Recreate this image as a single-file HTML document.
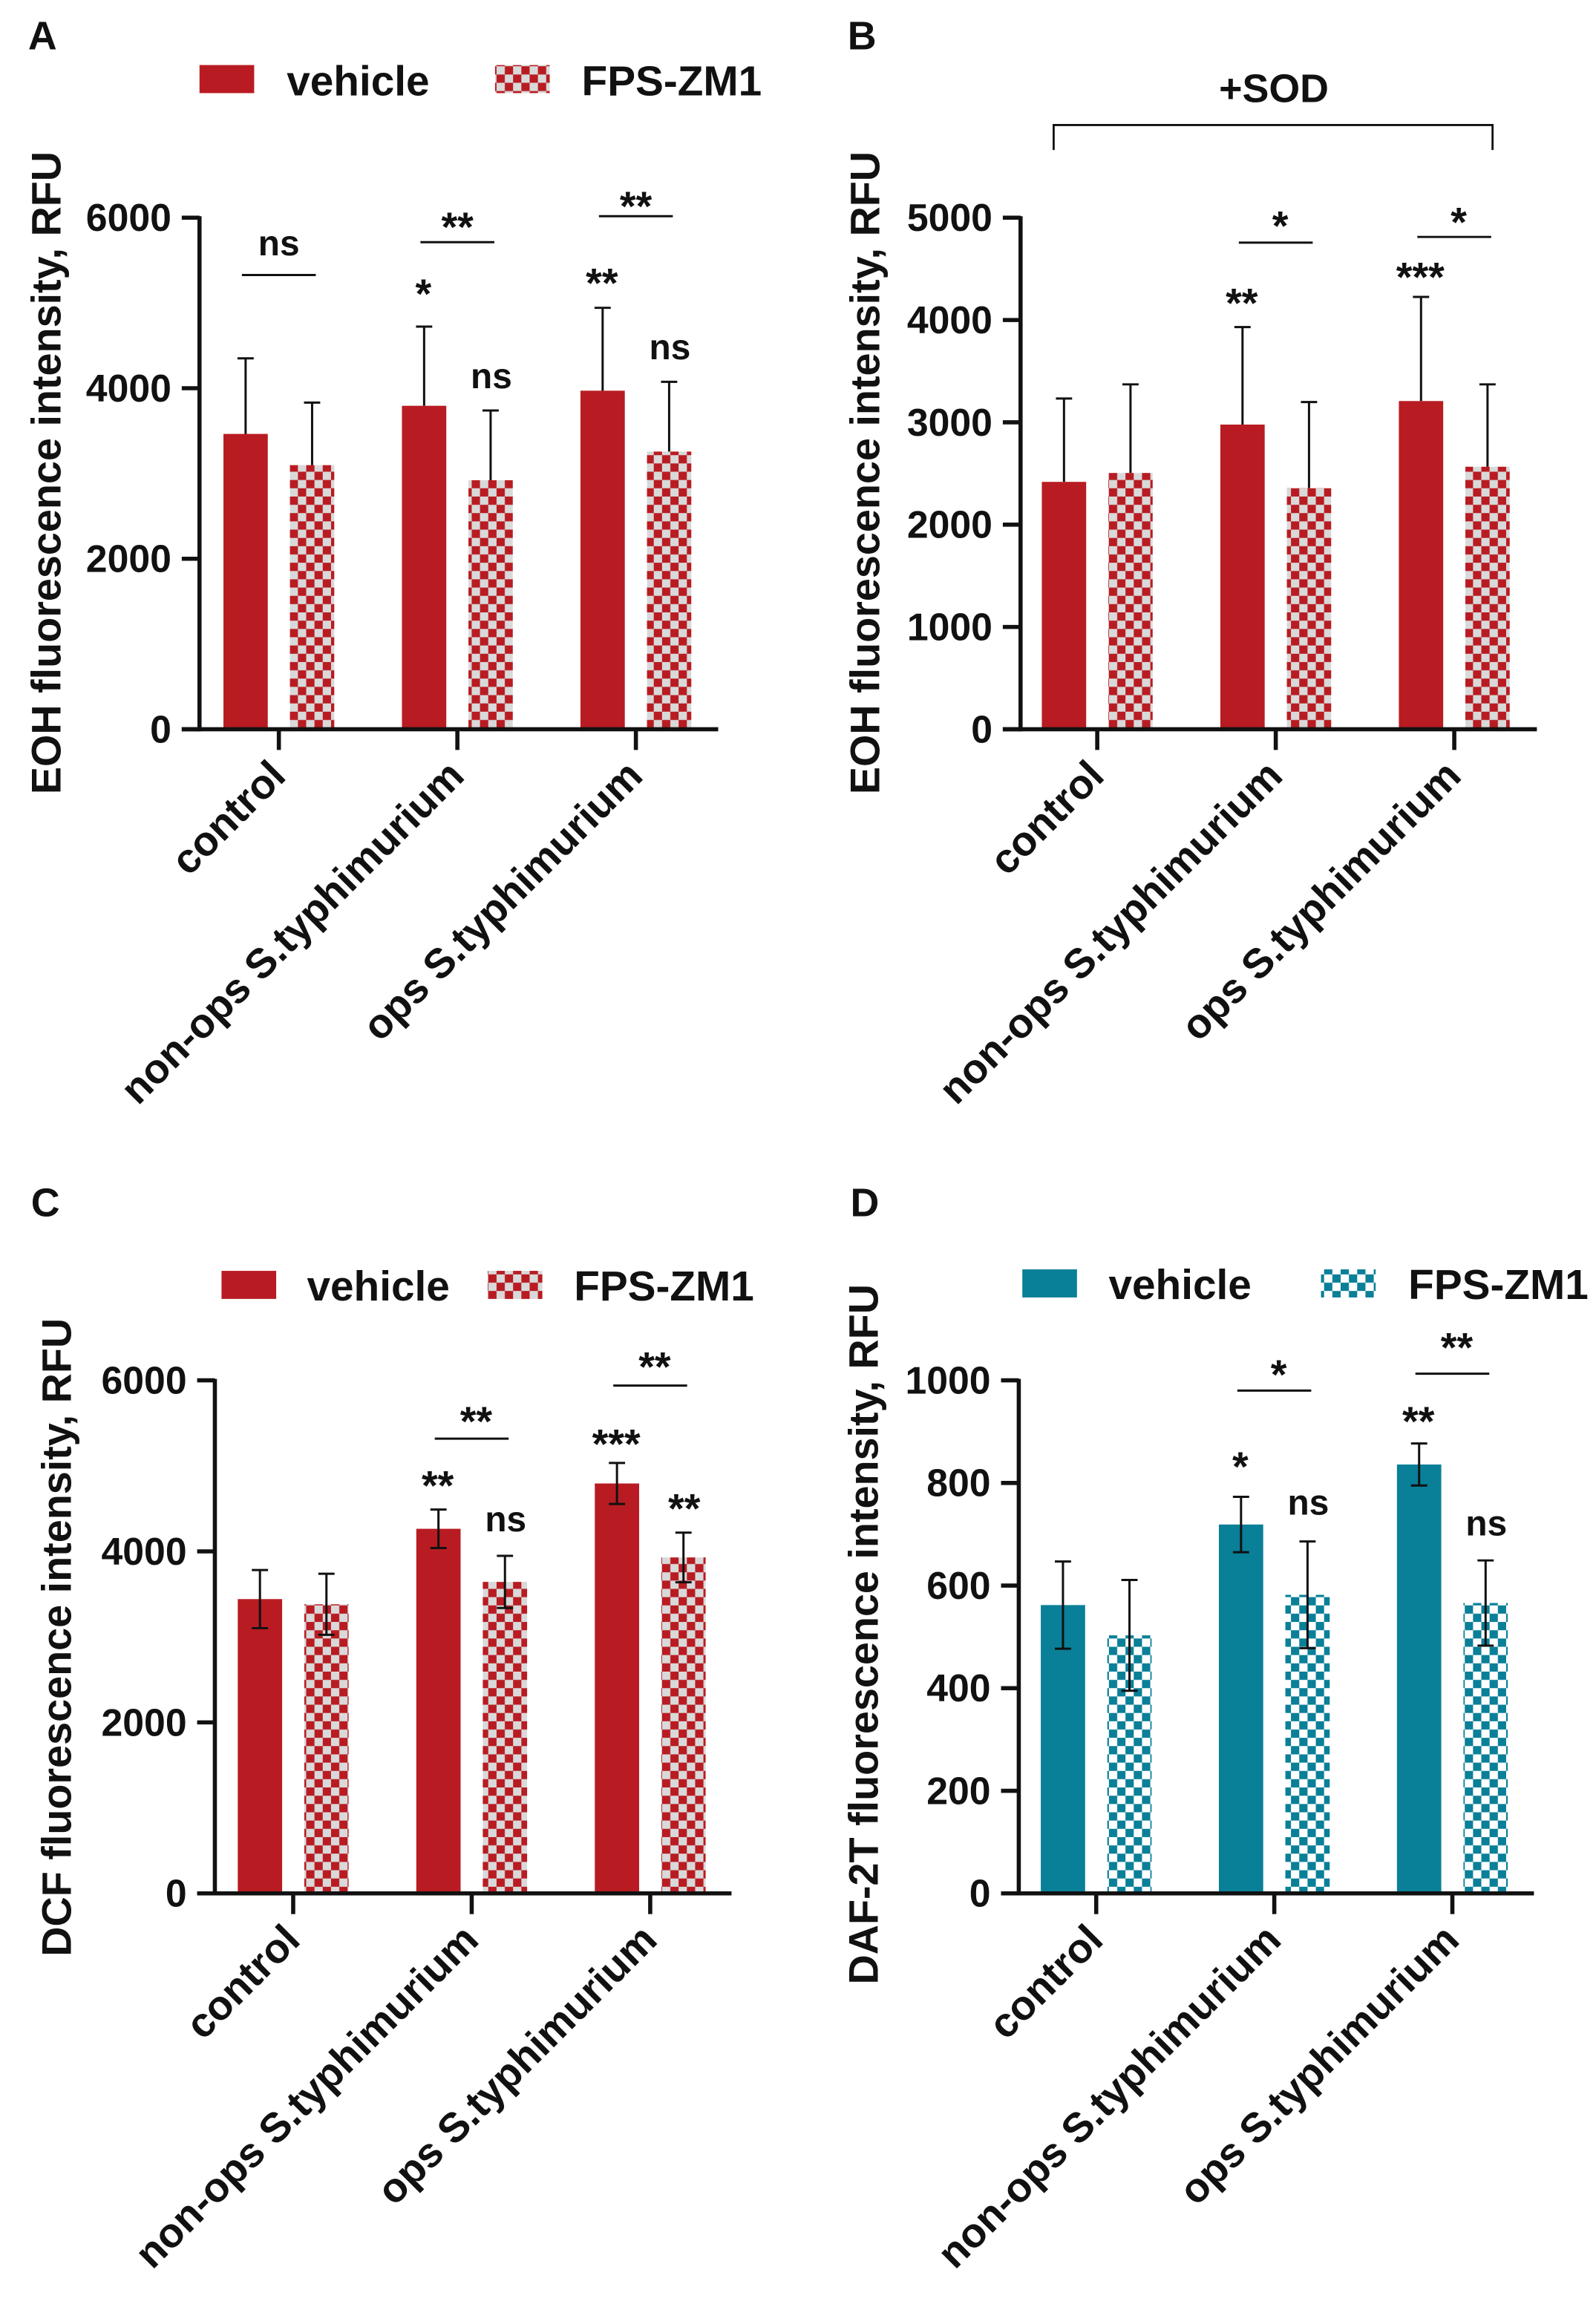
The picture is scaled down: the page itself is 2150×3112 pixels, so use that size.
<!DOCTYPE html>
<html><head><meta charset="utf-8"><style>
html,body{margin:0;padding:0;background:#fff;}
svg{display:block;}
text{font-family:"Liberation Sans",Arial,sans-serif;font-weight:bold;fill:#111;}
</style></head><body>
<svg id="fig" xmlns="http://www.w3.org/2000/svg" width="2150" height="3112" viewBox="0 0 1080 1563.2">
<defs>
<pattern id="chkRed" width="11.2" height="11.2" patternUnits="userSpaceOnUse">
<rect width="11.2" height="11.2" fill="#b81c22"/><rect width="5.6" height="5.6" fill="#d9d9d9"/><rect x="5.6" y="5.6" width="5.6" height="5.6" fill="#d9d9d9"/>
</pattern>
<pattern id="chkTeal" width="11.2" height="11.2" patternUnits="userSpaceOnUse">
<rect width="11.2" height="11.2" fill="#0a7f98"/><rect width="5.6" height="5.6" fill="#fff"/><rect x="5.6" y="5.6" width="5.6" height="5.6" fill="#fff"/>
</pattern>
</defs>
</svg>
<script>
const categories = ["control","non-ops S.typhimurium","ops S.typhimurium"];
const seriesNames = ["vehicle","FPS-ZM1"];
// Panel A
const aVehicle = [3464, 3794, 3971];
const aFps = [3098, 2921, 3257];
const aVehicleErr = [886, 929, 972];
const aFpsErr = [733, 818, 818];
const aTicks = [0, 2000, 4000, 6000];
// Panel B
const bVehicle = [2418, 2978, 3208];
const bFps = [2505, 2357, 2566];
const bVehicleErr = [815, 953, 1018];
const bFpsErr = [866, 841, 805];
const bTicks = [0, 1000, 2000, 3000, 4000, 5000];
// Panel C
const cVehicle = [3442, 4264, 4794];
const cFps = [3381, 3643, 3929];
const cVehicleErr = [340, 225, 240];
const cFpsErr = [357, 305, 290];
const cTicks = [0, 2000, 4000, 6000];
// Panel D
const dVehicle = [562, 719, 836];
const dFps = [503, 582, 566];
const dVehicleErr = [85, 54, 41];
const dFpsErr = [108, 104, 83];
const dTicks = [0, 200, 400, 600, 800, 1000];

const NS = "http://www.w3.org/2000/svg";
const svg = document.getElementById('fig');
function mk(tag, attrs, parent){
  const e = document.createElementNS(NS, tag);
  for (const k in attrs) e.setAttribute(k, attrs[k]);
  (parent||svg).appendChild(e);
  return e;
}
function txt(s, attrs, parent){ const e = mk('text', attrs, parent); e.textContent = s; return e; }

function panel(cfg){
  const g = mk('g', {});
  
  
  const yS = v => cfg.y0 - (v / cfg.max) * (cfg.y0 - cfg.yTop);
  const xS = i => cfg.tick0 + i * cfg.step;
  const L = txt(cfg.letter, {x: cfg.lx, y: cfg.ly, 'font-size': 27}, g);
  
  
  const yt = txt(cfg.ytitle, {x: 0, y: 0, 'font-size': 28, 'text-anchor': 'middle', transform: `translate(${cfg.ytx},${cfg.yty}) rotate(-90)`}, g);
  
  
  const col = cfg.color, pat = cfg.pattern;
  for (let i = 0; i < categories.length; i++){
    const cx = xS(i);
    [[cfg.v, cfg.ve, -37.5, col], [cfg.f, cfg.fe, 7.5, pat]].forEach((s, si) => {
      const top = yS(s[0][i]);
      const r = mk('rect', {x: cx + s[2], y: top, width: 30, height: cfg.y0 - top, fill: s[3]}, g);
      
      
      const bx = cx + s[2] + 15;
      const et = yS(s[0][i] + s[1][i]);
      const eb = cfg.twoSided ? yS(s[0][i] - s[1][i]) : top;
      const eg = mk('g', {stroke: '#111', 'stroke-width': 1.5}, g);
      
      
      mk('line', {x1: bx, x2: bx, y1: et, y2: eb}, eg);
      mk('line', {x1: bx - 5.5, x2: bx + 5.5, y1: et, y2: et}, eg);
      if (cfg.twoSided) mk('line', {x1: bx - 5.5, x2: bx + 5.5, y1: eb, y2: eb}, eg);
    });
    mk('line', {x1: cx, x2: cx, y1: cfg.y0, y2: cfg.y0 + 14, stroke: '#111', 'stroke-width': 2.8}, g);
    const cl = txt(categories[i], {x: 0, y: 0, 'font-size': 28, 'text-anchor': 'end', transform: `translate(${cx + 6},${cfg.y0 + 33}) rotate(-45)`}, g);
    
    
  }
  const ax = mk('line', {x1: cfg.ax, x2: cfg.ax, y1: cfg.yTop - 1, y2: cfg.y0 + 1.4, stroke: '#111', 'stroke-width': 2.8}, g);
  
  
  const xa = mk('line', {x1: cfg.ax - 12, x2: cfg.axEnd, y1: cfg.y0, y2: cfg.y0, stroke: '#111', 'stroke-width': 2.8}, g);
  
  
  cfg.ticks.forEach(t => {
    const y = yS(t);
    mk('line', {x1: cfg.ax - 12, x2: cfg.ax, y1: y, y2: y, stroke: '#111', 'stroke-width': 2.8}, g);
    const tl = txt(String(t), {x: cfg.ax - 19, y: y + 9, 'font-size': 26, 'text-anchor': 'end'}, g);
    
    
  });
  cfg.lines.forEach(l => {
    const cx = xS(l[0]), y = yS(l[1]);
    const ln = mk('line', {x1: cx - 25, x2: cx + 25, y1: y, y2: y, stroke: '#111', 'stroke-width': 1.5}, g);
    
    
  });
  cfg.notes.forEach(n => {
    const cx = xS(n[0]) + n[1];
    const star = n[3].indexOf('*') >= 0;
    const y = yS(n[2]) + (star ? 11 : 0);
    const t = txt(n[3], {x: cx, y: y, 'font-size': star ? 28 : 24, 'text-anchor': 'middle'}, g);
    
    
  });
  if (cfg.leg){
    const lg = mk('g', {}, g);
    
    
    const L2 = cfg.leg;
    const e1 = mk('rect', {x: L2.s1, y: L2.sy, width: 37, height: 19, fill: col}, lg);
    
    
    const t1 = txt(seriesNames[0], {x: L2.t1, y: L2.ty, 'font-size': 28.5}, lg);
    
    
    const e2 = mk('rect', {x: L2.s2, y: L2.sy, width: 37, height: 19, fill: pat}, lg);
    
    
    const t2 = txt(seriesNames[1], {x: L2.t2, y: L2.ty, 'font-size': 28.5}, lg);
    
    
  }
  return g;
}

const RED = '#b81c22', TEAL = '#0a7f98';
panel({letter:'A', lx:19, ly:33.5, ytitle:'EOH fluorescence intensity, RFU', ytx:41, yty:320,
  ax:135, axEnd:486, yTop:147.3, y0:493.5, max:6000, tick0:188.7, step:120.8, ticks:aTicks,
  v:aVehicle, ve:aVehicleErr, f:aFps, fe:aFpsErr, twoSided:false, color:RED, pattern:'url(#chkRed)',
  lines:[[0,5328],[1,5713],[2,6018]],
  notes:[[0,0,5560,'ns'],[1,0,5914,'**'],[2,0,6159,'**'],[1,-23,5132,'*'],[2,-23,5255,'**'],[1,23,4002,'ns'],[2,23,4338,'ns']],
  leg:{s1:135,s2:335,sy:44,t1:194,t2:393.6,ty:64.5}});
panel({letter:'B', lx:573.5, ly:33.5, ytitle:'EOH fluorescence intensity, RFU', ytx:595, yty:320,
  ax:690.6, axEnd:1040, yTop:147.3, y0:493.5, max:5000, tick0:742.5, step:120.8, ticks:bTicks,
  v:bVehicle, ve:bVehicleErr, f:bFps, fe:bFpsErr, twoSided:false, color:RED, pattern:'url(#chkRed)',
  lines:[[1,4756],[2,4812]],
  notes:[[1,3,4939,'*'],[2,3,4975,'*'],[1,-23,4185,'**'],[2,-23,4440,'***']]});
panel({letter:'C', lx:21, ly:823, ytitle:'DCF fluorescence intensity, RFU', ytx:48, yty:1108,
  ax:145.4, axEnd:495, yTop:934.1, y0:1281.3, max:6000, tick0:198.4, step:120.8, ticks:cTicks,
  v:cVehicle, ve:cVehicleErr, f:cFps, fe:cFpsErr, twoSided:true, color:RED, pattern:'url(#chkRed)',
  lines:[[1,5318],[2,5939]],
  notes:[[1,3,5543,'**'],[2,3,6183,'**'],[1,-23,4794,'**'],[2,-23,5281,'***'],[1,23,4234,'ns'],[2,23,4526,'**']],
  leg:{s1:149.9,s2:330,sy:860,t1:207.7,t2:388.4,ty:880}});
panel({letter:'D', lx:575.4, ly:823, ytitle:'DAF-2T fluorescence intensity, RFU', ytx:594, yty:1106,
  ax:689.4, axEnd:1038, yTop:934.1, y0:1281.3, max:1000, tick0:741.8, step:120.5, ticks:dTicks,
  v:dVehicle, ve:dVehicleErr, f:dFps, fe:dFpsErr, twoSided:true, color:TEAL, pattern:'url(#chkTeal)',
  lines:[[1,980],[2,1013]],
  notes:[[1,3,1015,'*'],[2,3,1068,'**'],[1,-23,836,'*'],[2,-23,924,'**'],[1,23,738,'ns'],[2,23,698,'ns']],
  leg:{s1:691.8,s2:893.9,sy:859,t1:750.2,t2:953,ty:879}});

const sod = mk('g', {fill:'none', stroke:'#111', 'stroke-width':1.4});


mk('polyline', {points:'713,101.5 713,84.6 1010,84.6 1010,101.5'}, sod);
const sodT = txt('+SOD', {x:862, y:69, 'font-size':27, 'text-anchor':'middle'});


</script>
</body></html>
